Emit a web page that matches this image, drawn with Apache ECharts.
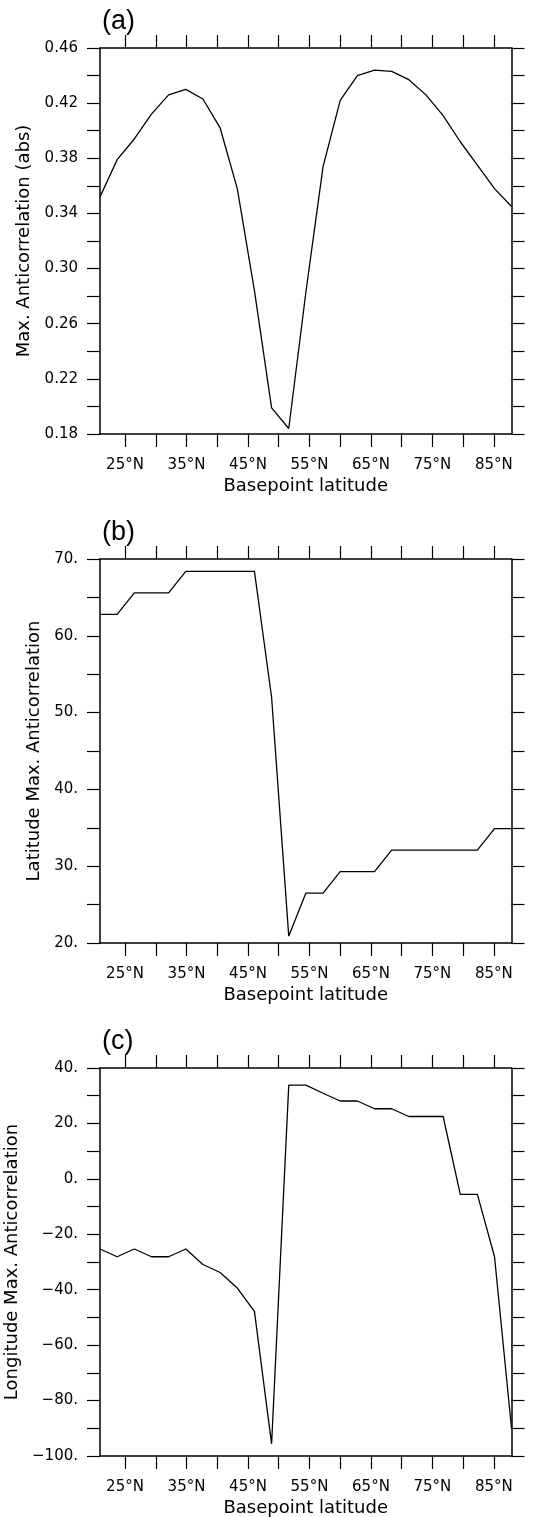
<!DOCTYPE html>
<html>
<head>
<meta charset="utf-8">
<title>Max anticorrelation vs basepoint latitude</title>
<script src="https://cdn.jsdelivr.net/npm/echarts@6/dist/echarts.min.js"></script>
<style>
  html, body { margin: 0; padding: 0; background: #fff; }
  #chart { width: 541px; height: 1517px; }
</style>
</head>
<body>
<div id="chart"></div>
<script>
// Basepoint latitudes (T42 Gaussian grid rows)
const basepointLat = [20.93, 23.72, 26.51, 29.30, 32.09, 34.88, 37.67, 40.47, 43.26, 46.05, 48.84, 51.63,
  54.42, 57.21, 60.00, 62.79, 65.58, 68.37, 71.16, 73.95, 76.74, 79.53, 82.31, 85.10, 87.86];

// (a) max anticorrelation (abs)
const maxAnticorr = [0.352, 0.379, 0.394, 0.412, 0.426, 0.430, 0.423, 0.402, 0.358, 0.284, 0.199, 0.184,
  0.283, 0.374, 0.422, 0.440, 0.444, 0.443, 0.437, 0.426, 0.411, 0.392, 0.375, 0.358, 0.345];

// (b) latitude of max anticorrelation
const latOfMax = [62.8, 62.8, 65.6, 65.6, 65.6, 68.4, 68.4, 68.4, 68.4, 68.4, 52.0, 20.9,
  26.5, 26.5, 29.3, 29.3, 29.3, 32.1, 32.1, 32.1, 32.1, 32.1, 32.1, 34.9, 34.9];

// (c) longitude of max anticorrelation
const lonOfMax = [-25.3, -28.1, -25.3, -28.1, -28.1, -25.3, -30.9, -33.8, -39.4, -47.8, -95.6, 33.8,
  33.8, 30.9, 28.1, 28.1, 25.3, 25.3, 22.5, 22.5, 22.5, -5.6, -5.6, -28.1, -90.0];

// tick positions and labels
const xTicks = [25, 30, 35, 40, 45, 50, 55, 60, 65, 70, 75, 80, 85];
const xLabels = [25, 35, 45, 55, 65, 75, 85];
const aTicks = [0.18, 0.20, 0.22, 0.24, 0.26, 0.28, 0.30, 0.32, 0.34, 0.36, 0.38, 0.40, 0.42, 0.44, 0.46];
const aLabels = [0.18, 0.22, 0.26, 0.30, 0.34, 0.38, 0.42, 0.46];
const bTicks = [20, 25, 30, 35, 40, 45, 50, 55, 60, 65, 70];
const bLabels = [20, 30, 40, 50, 60, 70];
const cTicks = [-100, -90, -80, -70, -60, -50, -40, -30, -20, -10, 0, 10, 20, 30, 40];
const cLabels = [-100, -80, -60, -40, -20, 0, 20, 40];

const chart = echarts.init(document.getElementById("chart"));

const FONT = "DejaVu Sans";
const INK = "#000";

const panels = [
  { tag: "(a)", top: 48, height: 386, min: 0.18, max: 0.46, data: maxAnticorr,
    ticks: aTicks, labels: aLabels, name: "Max. Anticorrelation (abs)", nameGap: 64,
    fmt: (v) => v.toFixed(2) },
  { tag: "(b)", top: 559, height: 384, min: 20, max: 70, data: latOfMax,
    ticks: bTicks, labels: bLabels, name: "Latitude Max. Anticorrelation", nameGap: 53,
    fmt: (v) => v.toFixed(0) + "." },
  { tag: "(c)", top: 1068, height: 388, min: -100, max: 40, data: lonOfMax,
    ticks: cTicks, labels: cLabels, name: "Longitude Max. Anticorrelation", nameGap: 75,
    fmt: (v) => (v < 0 ? "\u2212" + Math.abs(v).toFixed(0) : v.toFixed(0)) + "." }
];

const tickStyle = { show: true, length: 13, lineStyle: { color: INK, width: 1.2 } };
const lineStyle = { show: true, onZero: false, lineStyle: { color: INK, width: 1.5 } };

const option = {
  animation: false,
  backgroundColor: "#fff",
  title: [],
  grid: [],
  xAxis: [],
  yAxis: [],
  series: []
};

panels.forEach((p, i) => {
  option.title.push({
    text: p.tag,
    left: 97,
    top: p.top - 45,
    textStyle: { fontFamily: "Liberation Sans", fontSize: 27, fontWeight: "normal", color: INK }
  });
  option.grid.push({
    left: 100, top: p.top, width: 411.5, height: p.height,
    containLabel: false, outerBoundsMode: "none"
  });

  // bottom x axis with labels
  option.xAxis.push({
    type: "value", gridIndex: i, position: "bottom",
    min: 20.93, max: 87.86,
    name: "Basepoint latitude", nameLocation: "middle", nameGap: 43,
    nameTextStyle: { fontFamily: FONT, fontSize: 18, color: INK },
    axisLine: lineStyle,
    axisTick: Object.assign({ customValues: xTicks }, tickStyle),
    axisLabel: { customValues: xLabels, margin: 24, fontFamily: FONT, fontSize: 15, color: INK,
      formatter: (v) => v + "\u00b0N" },
    splitLine: { show: false }
  });
  // top x axis, ticks only
  option.xAxis.push({
    type: "value", gridIndex: i, position: "top",
    min: 20.93, max: 87.86,
    axisLine: lineStyle,
    axisTick: Object.assign({ customValues: xTicks }, tickStyle),
    axisLabel: { show: false },
    splitLine: { show: false }
  });

  // left y axis with labels
  option.yAxis.push({
    type: "value", gridIndex: i, position: "left",
    min: p.min, max: p.max,
    name: p.name, nameLocation: "middle", nameGap: p.nameGap,
    nameTextStyle: { fontFamily: FONT, fontSize: 18, color: INK },
    axisLine: lineStyle,
    axisTick: Object.assign({ customValues: p.ticks }, tickStyle),
    axisLabel: { customValues: p.labels, margin: 22, fontFamily: FONT, fontSize: 15, color: INK,
      formatter: p.fmt },
    splitLine: { show: false }
  });
  // right y axis, ticks only
  option.yAxis.push({
    type: "value", gridIndex: i, position: "right",
    min: p.min, max: p.max,
    axisLine: lineStyle,
    axisTick: Object.assign({ customValues: p.ticks }, tickStyle),
    axisLabel: { show: false },
    splitLine: { show: false }
  });

  option.series.push({
    type: "line",
    xAxisIndex: i * 2,
    yAxisIndex: i * 2,
    data: basepointLat.map((lat, k) => [lat, p.data[k]]),
    showSymbol: false,
    symbol: "none",
    lineStyle: { color: INK, width: 1.3 },
    silent: true
  });
});

chart.setOption(option);
</script>
</body>
</html>
